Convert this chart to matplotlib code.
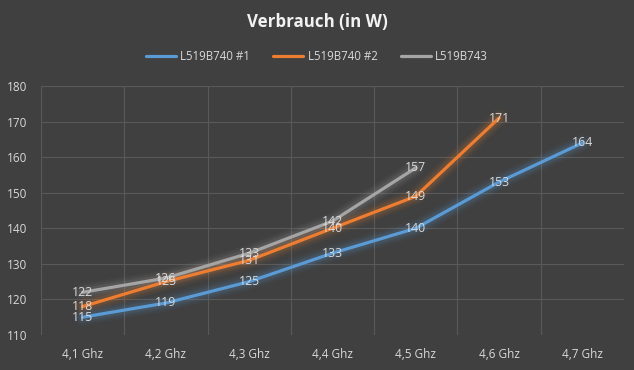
import matplotlib
matplotlib.use('Agg')
import matplotlib.pyplot as plt
import numpy as np

CATEGORIES = ['4,1 Ghz', '4,2 Ghz', '4,3 Ghz', '4,4 Ghz', '4,5 Ghz', '4,6 Ghz', '4,7 Ghz']
SERIES_NAMES = ['L519B740 #1', 'L519B740 #2', 'L519B743']
VALS_1 = [115, 119, 125, 133, 140, 153, 164]
VALS_2 = [118, 125, 131, 140, 149, 171]
VALS_3 = [122, 126, 133, 142, 157]
COLORS = ['#5B9BD5', '#ED7D31', '#A5A5A5']

BG = '#404040'
TXT = '#D9D9D9'
GRID = '#595959'

plt.rcParams['font.family'] = ['Open Sans', 'DejaVu Sans']

fig = plt.figure(figsize=(6.34, 3.70), dpi=100)
fig.patch.set_facecolor(BG)
ax = fig.add_axes([41 / 634, 35 / 370, 583 / 634, 249 / 370])
ax.set_facecolor(BG)

for vals, name, col in zip([VALS_1, VALS_2, VALS_3], SERIES_NAMES, COLORS):
    x = np.arange(len(vals))
    # soft glow under each line
    for w, a in [(12, 0.05), (9, 0.07), (6, 0.12)]:
        ax.plot(x, vals, color=col, linewidth=w, alpha=a, solid_capstyle='round',
                solid_joinstyle='round', zorder=2)
    ax.plot(x, vals, color=col, linewidth=2.3, label=name, solid_capstyle='round',
            solid_joinstyle='round', zorder=3)
    for xi, v in zip(x, vals):
        ax.text(xi, v, str(v), ha='center', va='center', fontsize=8.8, color=TXT, zorder=4)

ax.set_xlim(-0.5, len(CATEGORIES) - 0.5)
ax.set_ylim(110, 180)
ax.set_yticks(range(110, 181, 10))
ax.set_xticks(range(len(CATEGORIES)))
ax.set_xticklabels(CATEGORIES)
ax.tick_params(axis='both', length=0, colors=TXT, labelsize=8.5)
ax.tick_params(axis='x', pad=9)
ax.tick_params(axis='y', pad=10)

# gridlines: horizontal at values, vertical at category boundaries
for y in range(120, 181, 10):
    ax.axhline(y, color=GRID, linewidth=0.8, zorder=1)
for b in np.arange(-0.5, len(CATEGORIES), 1.0):
    ax.axvline(b, color=GRID, linewidth=0.8, zorder=1)
for s in ax.spines.values():
    s.set_visible(False)

fig.text(0.5, 1 - 22 / 370, 'Verbrauch (in W)', ha='center', va='center',
         fontsize=12.2, fontweight='bold', color='#F2F2F2')

fig.legend(loc='center', bbox_to_anchor=(0.5, 1 - 57 / 370), ncol=3, frameon=False,
           fontsize=8.3, labelcolor=TXT, handlelength=2.6, columnspacing=2.0,
           handletextpad=0.4)

plt.savefig('out.png', dpi=100, facecolor=fig.get_facecolor())
plt.close()
